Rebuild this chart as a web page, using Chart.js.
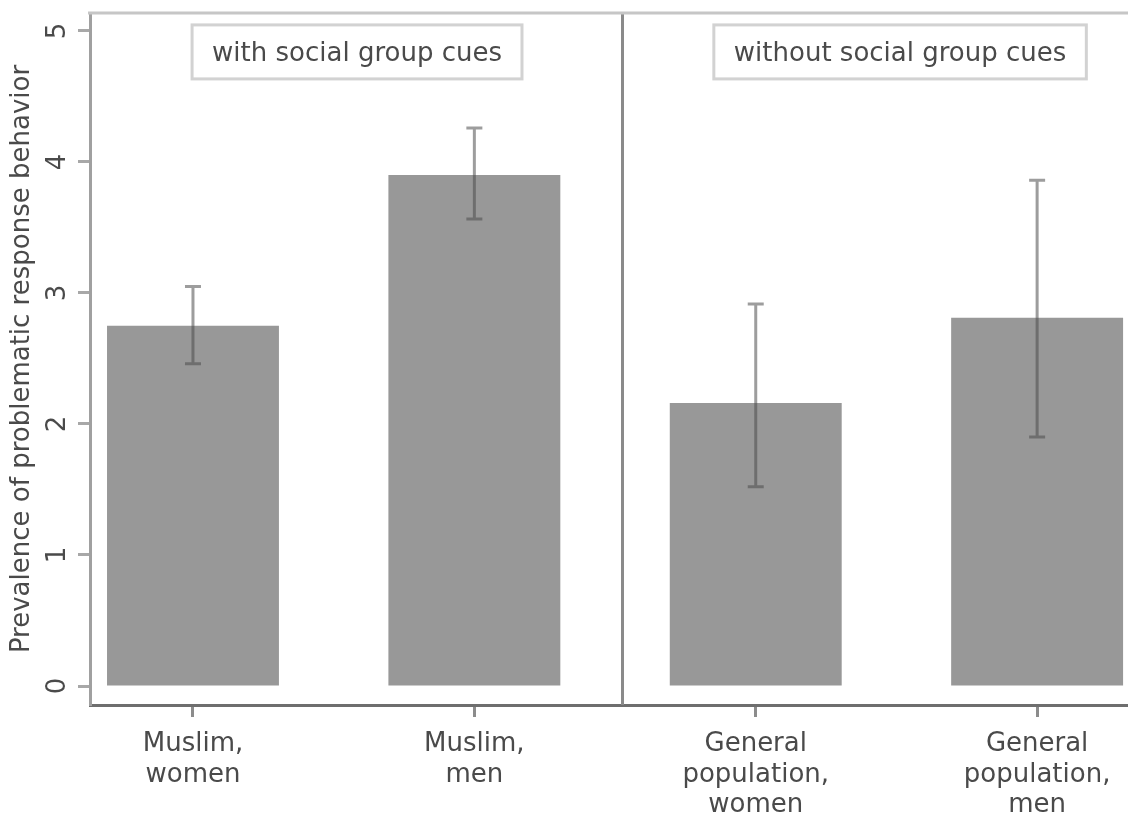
<!DOCTYPE html>
<html><head><meta charset="utf-8">
<script src="https://cdn.jsdelivr.net/npm/chart.js@4.4.1/dist/chart.umd.min.js"></script>
<style>html,body{margin:0;padding:0;background:#fff;} #wrap{width:1128px;height:816px;}</style>
</head><body><div id="wrap"><canvas id="c" width="1128" height="816"></canvas></div>
<script>
const categories = [["Muslim,","women"],["Muslim,","men"],["General","population,","women"],["General","population,","men"]];
const prevalence = [2.75, 3.90, 2.16, 2.81];
const ciLow = [2.46, 3.565, 1.52, 1.90];
const ciHigh = [3.05, 4.26, 2.915, 3.86];
const yTickValues = [0, 1, 2, 3, 4, 5];
const yTickLabels = ["0", "1", "2", "3", "4", "5"];
const panelLabels = ["with social group cues", "without social group cues"];
const yTitle = "Prevalence of problematic response behavior";

const FAMILY = "'DejaVu Sans', sans-serif";
const TXT = '#4a4a4a';
const PANEL_X = [1.583, 3.513];
const PANEL_Y = 4.84;
const DIVIDER_X = 2.525;

const extras = {
  id: 'extras',
  beforeDatasetsDraw(chart) {
    const {ctx, chartArea: a, scales: {x, y}} = chart;
    ctx.save();
    const dx = Math.round(x.getPixelForValue(DIVIDER_X)) + 0.5;
    ctx.strokeStyle = '#8a8a8a'; ctx.lineWidth = 3;
    ctx.beginPath(); ctx.moveTo(dx, a.top); ctx.lineTo(dx, a.bottom); ctx.stroke();
    ctx.strokeStyle = '#c6c6c6'; ctx.lineWidth = 3;
    ctx.beginPath(); ctx.moveTo(a.left - 2, a.top); ctx.lineTo(a.right, a.top); ctx.stroke();
    ctx.font = '26px ' + FAMILY;
    ctx.textAlign = 'center'; ctx.textBaseline = 'middle';
    panelLabels.forEach((t, i) => {
      const cx = x.getPixelForValue(PANEL_X[i]);
      const cy = y.getPixelForValue(PANEL_Y);
      const w = ctx.measureText(t).width + 40;
      const h = 54;
      ctx.fillStyle = '#fff';
      ctx.fillRect(cx - w / 2, cy - h / 2, w, h);
      ctx.strokeStyle = '#d2d2d2'; ctx.lineWidth = 3;
      ctx.strokeRect(cx - w / 2, cy - h / 2, w, h);
      ctx.fillStyle = TXT;
      ctx.fillText(t, cx, cy + 2);
    });
    ctx.restore();
  },
  afterDatasetsDraw(chart) {
    const {ctx, scales: {x, y}} = chart;
    ctx.save();
    ctx.strokeStyle = 'rgba(76,76,76,0.55)';
    ctx.lineWidth = 3;
    prevalence.forEach((v, i) => {
      const px = x.getPixelForValue(i + 1);
      const yh = y.getPixelForValue(ciHigh[i]);
      const yl = y.getPixelForValue(ciLow[i]);
      ctx.beginPath();
      ctx.moveTo(px, yh); ctx.lineTo(px, yl);
      ctx.moveTo(px - 8, yh); ctx.lineTo(px + 8, yh);
      ctx.moveTo(px - 8, yl); ctx.lineTo(px + 8, yl);
      ctx.stroke();
    });
    ctx.restore();
  },
  afterDraw(chart) {
    const {ctx, scales: {y}} = chart;
    ctx.save();
    ctx.font = '26px ' + FAMILY;
    ctx.fillStyle = TXT;
    ctx.textAlign = 'center'; ctx.textBaseline = 'middle';
    yTickValues.forEach((v, i) => {
      const py = y.getPixelForValue(v);
      ctx.save();
      ctx.translate(58, py);
      ctx.rotate(-Math.PI / 2);
      ctx.fillText(yTickLabels[i], 0, 0);
      ctx.restore();
    });
    ctx.restore();
  }
};

new Chart(document.getElementById('c'), {
  type: 'bar',
  data: {
    datasets: [{
      data: prevalence.map((v, i) => ({x: i + 1, y: v})),
      backgroundColor: '#989898',
      borderWidth: 0,
      barPercentage: 0.611,
      categoryPercentage: 1
    }]
  },
  options: {
    responsive: false,
    animation: false,
    devicePixelRatio: 1,
    layout: {padding: {top: 13, left: 0, right: 0, bottom: 0}},
    plugins: {legend: {display: false}, tooltip: {enabled: false}},
    scales: {
      x: {
        type: 'linear', min: 0.634, max: 4.323, offset: false,
        afterBuildTicks: s => { s.ticks = categories.map((c, i) => ({value: i + 1})); },
        ticks: {
          callback: v => categories[v - 1],
          font: {family: FAMILY, size: 26, lineHeight: 1.18},
          color: TXT, padding: 12, maxRotation: 0, minRotation: 0, autoSkip: false
        },
        grid: {drawOnChartArea: false, offset: false, tickLength: 12, tickColor: '#8c8c8c', tickWidth: 3},
        border: {color: '#6e6e6e', width: 3},
        afterFit: s => { s.height = 111; }
      },
      y: {
        min: -0.145, max: 5.137,
        afterBuildTicks: s => { s.ticks = yTickValues.map(v => ({value: v})); },
        ticks: {display: false},
        grid: {drawOnChartArea: false, tickLength: 12, tickColor: '#a8a8a8', tickWidth: 3},
        border: {color: '#a0a0a0', width: 3},
        title: {display: true, text: yTitle, font: {family: FAMILY, size: 26}, color: TXT, padding: {top: 7, bottom: 0}},
        afterFit: s => { s.width = 90; }
      }
    }
  },
  plugins: [extras]
});
</script>
</body></html>
